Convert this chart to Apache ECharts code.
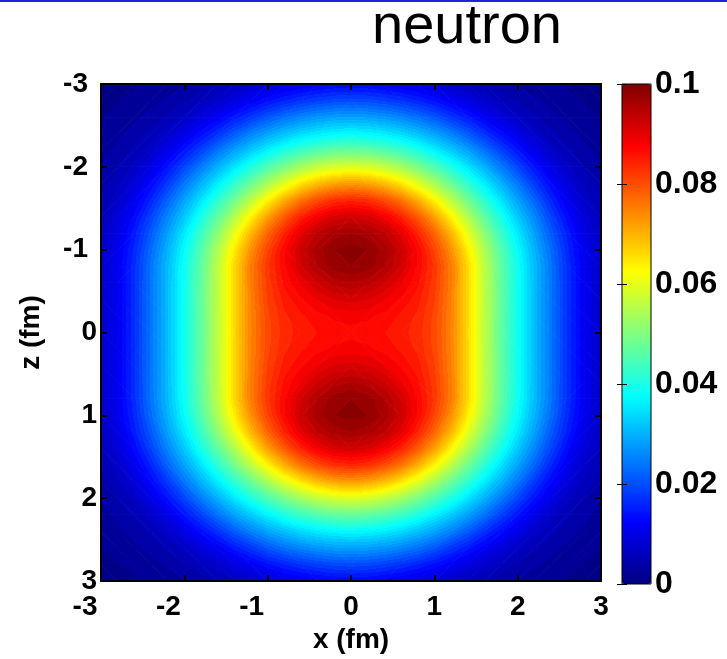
<!DOCTYPE html>
<html>
<head>
<meta charset="utf-8">
<title>neutron</title>
<script src="https://cdn.jsdelivr.net/npm/echarts@6/dist/echarts.min.js"></script>
<style>
  html, body { margin: 0; padding: 0; background: #fff; }
  #chart { width: 727px; height: 659px; }
</style>
</head>
<body>
<div id="chart"></div>
<script>
// Sample positions (fm)
const xValues = [-3, -2.8, -2.6, -2.4, -2.2, -2, -1.8, -1.6, -1.4, -1.2, -1, -0.8, -0.6, -0.4, -0.2, 0,
                 0.2, 0.4, 0.6, 0.8, 1, 1.2, 1.4, 1.6, 1.8, 2, 2.2, 2.4, 2.6, 2.8, 3];
const zValues = [-3, -2.8, -2.6, -2.4, -2.2, -2, -1.8, -1.6, -1.4, -1.2, -1, -0.8, -0.6, -0.4, -0.2, 0,
                 0.2, 0.4, 0.6, 0.8, 1, 1.2, 1.4, 1.6, 1.8, 2, 2.2, 2.4, 2.6, 2.8, 3];

// Neutron density, one row per z value (top row z = -3), columns follow xValues
const density = [
  [0.0009,0.0012,0.0014,0.0018,0.0023,0.0030,0.0038,0.0047,0.0060,0.0071,0.0085,0.0097,0.0107,0.0115,0.0121,0.0123,0.0121,0.0115,0.0107,0.0097,0.0085,0.0071,0.0060,0.0047,0.0038,0.0030,0.0023,0.0018,0.0014,0.0012,0.0009],
  [0.0012,0.0015,0.0019,0.0026,0.0034,0.0045,0.0059,0.0075,0.0095,0.0115,0.0137,0.0156,0.0172,0.0185,0.0194,0.0197,0.0194,0.0185,0.0172,0.0156,0.0137,0.0115,0.0095,0.0075,0.0059,0.0045,0.0034,0.0026,0.0019,0.0015,0.0012],
  [0.0015,0.0020,0.0027,0.0037,0.0050,0.0068,0.0091,0.0116,0.0147,0.0176,0.0208,0.0234,0.0255,0.0270,0.0279,0.0282,0.0279,0.0270,0.0255,0.0234,0.0208,0.0176,0.0147,0.0116,0.0091,0.0068,0.0050,0.0037,0.0027,0.0020,0.0015],
  [0.0019,0.0027,0.0038,0.0053,0.0072,0.0101,0.0134,0.0171,0.0213,0.0252,0.0285,0.0314,0.0340,0.0358,0.0370,0.0375,0.0370,0.0358,0.0340,0.0314,0.0285,0.0252,0.0213,0.0171,0.0134,0.0101,0.0072,0.0053,0.0038,0.0027,0.0019],
  [0.0025,0.0036,0.0051,0.0072,0.0103,0.0143,0.0187,0.0237,0.0282,0.0325,0.0366,0.0403,0.0433,0.0455,0.0470,0.0474,0.0470,0.0455,0.0433,0.0403,0.0366,0.0325,0.0282,0.0237,0.0187,0.0143,0.0103,0.0072,0.0051,0.0036,0.0025],
  [0.0032,0.0046,0.0068,0.0100,0.0141,0.0191,0.0246,0.0298,0.0352,0.0404,0.0451,0.0495,0.0534,0.0565,0.0585,0.0592,0.0585,0.0565,0.0534,0.0495,0.0451,0.0404,0.0352,0.0298,0.0246,0.0191,0.0141,0.0100,0.0068,0.0046,0.0032],
  [0.0040,0.0060,0.0089,0.0129,0.0180,0.0241,0.0299,0.0360,0.0421,0.0479,0.0540,0.0597,0.0650,0.0691,0.0716,0.0725,0.0716,0.0691,0.0650,0.0597,0.0540,0.0479,0.0421,0.0360,0.0299,0.0241,0.0180,0.0129,0.0089,0.0060,0.0040],
  [0.0048,0.0072,0.0109,0.0159,0.0222,0.0284,0.0350,0.0418,0.0486,0.0559,0.0634,0.0704,0.0762,0.0803,0.0831,0.0839,0.0831,0.0803,0.0762,0.0704,0.0634,0.0559,0.0486,0.0418,0.0350,0.0284,0.0222,0.0159,0.0109,0.0072,0.0048],
  [0.0057,0.0087,0.0131,0.0189,0.0256,0.0322,0.0396,0.0468,0.0548,0.0635,0.0719,0.0789,0.0844,0.0884,0.0910,0.0919,0.0910,0.0884,0.0844,0.0789,0.0719,0.0635,0.0548,0.0468,0.0396,0.0322,0.0256,0.0189,0.0131,0.0087,0.0057],
  [0.0064,0.0099,0.0149,0.0213,0.0282,0.0355,0.0431,0.0513,0.0603,0.0697,0.0778,0.0844,0.0900,0.0940,0.0960,0.0968,0.0960,0.0940,0.0900,0.0844,0.0778,0.0697,0.0603,0.0513,0.0431,0.0355,0.0282,0.0213,0.0149,0.0099,0.0064],
  [0.0069,0.0107,0.0161,0.0230,0.0300,0.0377,0.0456,0.0544,0.0642,0.0736,0.0811,0.0872,0.0925,0.0962,0.0984,0.0991,0.0984,0.0962,0.0925,0.0872,0.0811,0.0736,0.0642,0.0544,0.0456,0.0377,0.0300,0.0230,0.0161,0.0107,0.0069],
  [0.0072,0.0111,0.0167,0.0239,0.0309,0.0388,0.0468,0.0560,0.0663,0.0755,0.0824,0.0872,0.0920,0.0955,0.0977,0.0984,0.0977,0.0955,0.0920,0.0872,0.0824,0.0755,0.0663,0.0560,0.0468,0.0388,0.0309,0.0239,0.0167,0.0111,0.0072],
  [0.0072,0.0112,0.0168,0.0240,0.0310,0.0390,0.0470,0.0561,0.0664,0.0754,0.0820,0.0863,0.0893,0.0922,0.0944,0.0952,0.0944,0.0922,0.0893,0.0863,0.0820,0.0754,0.0664,0.0561,0.0470,0.0390,0.0310,0.0240,0.0168,0.0112,0.0072],
  [0.0072,0.0112,0.0168,0.0240,0.0310,0.0390,0.0470,0.0561,0.0663,0.0751,0.0814,0.0850,0.0872,0.0892,0.0907,0.0912,0.0907,0.0892,0.0872,0.0850,0.0814,0.0751,0.0663,0.0561,0.0470,0.0390,0.0310,0.0240,0.0168,0.0112,0.0072],
  [0.0072,0.0112,0.0168,0.0240,0.0310,0.0390,0.0470,0.0561,0.0662,0.0749,0.0808,0.0840,0.0856,0.0869,0.0878,0.0881,0.0878,0.0869,0.0856,0.0840,0.0808,0.0749,0.0662,0.0561,0.0470,0.0390,0.0310,0.0240,0.0168,0.0112,0.0072],
  [0.0072,0.0112,0.0168,0.0240,0.0310,0.0390,0.0470,0.0560,0.0661,0.0748,0.0806,0.0836,0.0850,0.0860,0.0867,0.0870,0.0867,0.0860,0.0850,0.0836,0.0806,0.0748,0.0661,0.0560,0.0470,0.0390,0.0310,0.0240,0.0168,0.0112,0.0072],
  [0.0072,0.0112,0.0168,0.0240,0.0310,0.0390,0.0470,0.0561,0.0662,0.0749,0.0808,0.0840,0.0856,0.0869,0.0878,0.0881,0.0878,0.0869,0.0856,0.0840,0.0808,0.0749,0.0662,0.0561,0.0470,0.0390,0.0310,0.0240,0.0168,0.0112,0.0072],
  [0.0072,0.0112,0.0168,0.0240,0.0310,0.0390,0.0470,0.0561,0.0663,0.0751,0.0814,0.0850,0.0872,0.0892,0.0907,0.0912,0.0907,0.0892,0.0872,0.0850,0.0814,0.0751,0.0663,0.0561,0.0470,0.0390,0.0310,0.0240,0.0168,0.0112,0.0072],
  [0.0072,0.0112,0.0168,0.0240,0.0310,0.0390,0.0470,0.0561,0.0664,0.0754,0.0820,0.0863,0.0893,0.0922,0.0944,0.0952,0.0944,0.0922,0.0893,0.0863,0.0820,0.0754,0.0664,0.0561,0.0470,0.0390,0.0310,0.0240,0.0168,0.0112,0.0072],
  [0.0072,0.0111,0.0167,0.0239,0.0309,0.0388,0.0468,0.0560,0.0663,0.0755,0.0824,0.0872,0.0920,0.0955,0.0977,0.0984,0.0977,0.0955,0.0920,0.0872,0.0824,0.0755,0.0663,0.0560,0.0468,0.0388,0.0309,0.0239,0.0167,0.0111,0.0072],
  [0.0069,0.0107,0.0161,0.0230,0.0300,0.0377,0.0456,0.0544,0.0642,0.0736,0.0811,0.0872,0.0925,0.0962,0.0984,0.0991,0.0984,0.0962,0.0925,0.0872,0.0811,0.0736,0.0642,0.0544,0.0456,0.0377,0.0300,0.0230,0.0161,0.0107,0.0069],
  [0.0064,0.0099,0.0149,0.0213,0.0282,0.0355,0.0431,0.0513,0.0603,0.0697,0.0778,0.0844,0.0900,0.0940,0.0960,0.0968,0.0960,0.0940,0.0900,0.0844,0.0778,0.0697,0.0603,0.0513,0.0431,0.0355,0.0282,0.0213,0.0149,0.0099,0.0064],
  [0.0057,0.0087,0.0131,0.0189,0.0256,0.0322,0.0396,0.0468,0.0548,0.0635,0.0719,0.0789,0.0844,0.0884,0.0910,0.0919,0.0910,0.0884,0.0844,0.0789,0.0719,0.0635,0.0548,0.0468,0.0396,0.0322,0.0256,0.0189,0.0131,0.0087,0.0057],
  [0.0048,0.0072,0.0109,0.0159,0.0222,0.0284,0.0350,0.0418,0.0486,0.0559,0.0634,0.0704,0.0762,0.0803,0.0831,0.0839,0.0831,0.0803,0.0762,0.0704,0.0634,0.0559,0.0486,0.0418,0.0350,0.0284,0.0222,0.0159,0.0109,0.0072,0.0048],
  [0.0040,0.0060,0.0089,0.0129,0.0180,0.0241,0.0299,0.0360,0.0421,0.0479,0.0540,0.0597,0.0650,0.0691,0.0716,0.0725,0.0716,0.0691,0.0650,0.0597,0.0540,0.0479,0.0421,0.0360,0.0299,0.0241,0.0180,0.0129,0.0089,0.0060,0.0040],
  [0.0032,0.0046,0.0068,0.0100,0.0141,0.0191,0.0246,0.0298,0.0352,0.0404,0.0451,0.0495,0.0534,0.0565,0.0585,0.0592,0.0585,0.0565,0.0534,0.0495,0.0451,0.0404,0.0352,0.0298,0.0246,0.0191,0.0141,0.0100,0.0068,0.0046,0.0032],
  [0.0025,0.0036,0.0051,0.0072,0.0103,0.0143,0.0187,0.0237,0.0282,0.0325,0.0366,0.0403,0.0433,0.0455,0.0470,0.0474,0.0470,0.0455,0.0433,0.0403,0.0366,0.0325,0.0282,0.0237,0.0187,0.0143,0.0103,0.0072,0.0051,0.0036,0.0025],
  [0.0019,0.0027,0.0038,0.0053,0.0072,0.0101,0.0134,0.0171,0.0213,0.0252,0.0285,0.0314,0.0340,0.0358,0.0370,0.0375,0.0370,0.0358,0.0340,0.0314,0.0285,0.0252,0.0213,0.0171,0.0134,0.0101,0.0072,0.0053,0.0038,0.0027,0.0019],
  [0.0015,0.0020,0.0027,0.0037,0.0050,0.0068,0.0091,0.0116,0.0147,0.0176,0.0208,0.0234,0.0255,0.0270,0.0279,0.0282,0.0279,0.0270,0.0255,0.0234,0.0208,0.0176,0.0147,0.0116,0.0091,0.0068,0.0050,0.0037,0.0027,0.0020,0.0015],
  [0.0012,0.0015,0.0019,0.0026,0.0034,0.0045,0.0059,0.0075,0.0095,0.0115,0.0137,0.0156,0.0172,0.0185,0.0194,0.0197,0.0194,0.0185,0.0172,0.0156,0.0137,0.0115,0.0095,0.0075,0.0059,0.0045,0.0034,0.0026,0.0019,0.0015,0.0012],
  [0.0009,0.0012,0.0014,0.0018,0.0023,0.0030,0.0038,0.0047,0.0060,0.0071,0.0085,0.0097,0.0107,0.0115,0.0121,0.0123,0.0121,0.0115,0.0107,0.0097,0.0085,0.0071,0.0060,0.0047,0.0038,0.0030,0.0023,0.0018,0.0014,0.0012,0.0009]
];

// Colour scale range, number of filled contour levels, colorbar tick step
const densityMin = 0;
const densityMax = 0.1;
const levelCount = 64;
const colorbarStep = 0.02;

// Jet colour map stops (evenly spaced over the range)
const jetColors = ['#000080', '#0000ff', '#0080ff', '#00ffff', '#80ff80',
                   '#ffff00', '#ff8000', '#ff0000', '#800000'];

const FONT = '"Liberation Sans", Arial, Helvetica, sans-serif';

// ---- colour helpers -------------------------------------------------------
const jetRgb = jetColors.map(h => [parseInt(h.slice(1, 3), 16), parseInt(h.slice(3, 5), 16), parseInt(h.slice(5, 7), 16)]);
function jetAt(t) {
  t = Math.max(0, Math.min(1, t));
  const s = t * (jetRgb.length - 1);
  const k = Math.min(jetRgb.length - 2, Math.floor(s));
  const f = s - k;
  const a = jetRgb[k], b = jetRgb[k + 1];
  return 'rgb(' + [0, 1, 2].map(c => Math.round(a[c] + (b[c] - a[c]) * f)).join(',') + ')';
}
const levelWidth = (densityMax - densityMin) / levelCount;
const levelColors = [];
for (let k = 0; k < levelCount; k++) levelColors.push(jetAt((k + 0.5) / levelCount));
function levelOf(v) {
  return Math.max(0, Math.min(levelCount - 1, Math.floor((v - densityMin) / levelWidth)));
}

// Filled-contour style fill for one triangle of the sample grid:
// a linear gradient along the direction in which the value changes,
// with a hard colour step at every contour level it crosses.
function triangleFill(p, v) {
  const e2x = p[1][0] - p[0][0], e2y = p[1][1] - p[0][1];
  const e3x = p[2][0] - p[0][0], e3y = p[2][1] - p[0][1];
  const dv2 = v[1] - v[0], dv3 = v[2] - v[0];
  const det = e2x * e3y - e2y * e3x;
  const lo = Math.min(v[0], v[1], v[2]);
  const hi = Math.max(v[0], v[1], v[2]);
  const kLo = levelOf(lo), kHi = levelOf(hi);
  if (kLo === kHi || Math.abs(det) < 1e-9) return levelColors[levelOf((v[0] + v[1] + v[2]) / 3)];
  const gx = (dv2 * e3y - e2y * dv3) / det;
  const gy = (e2x * dv3 - dv2 * e3x) / det;
  const g2 = gx * gx + gy * gy;
  const sx = p[0][0] + (lo - v[0]) * gx / g2, sy = p[0][1] + (lo - v[0]) * gy / g2;
  const ex = p[0][0] + (hi - v[0]) * gx / g2, ey = p[0][1] + (hi - v[0]) * gy / g2;
  const stops = [{ offset: 0, color: levelColors[kLo] }];
  for (let k = kLo + 1; k <= kHi; k++) {
    const off = (densityMin + k * levelWidth - lo) / (hi - lo);
    stops.push({ offset: off, color: levelColors[k - 1] });
    stops.push({ offset: off, color: levelColors[k] });
  }
  stops.push({ offset: 1, color: levelColors[kHi] });
  return { type: 'linear', x: sx, y: sy, x2: ex, y2: ey, global: true, colorStops: stops };
}

// Flatten the grid into [x, z, value] triples
const nx = xValues.length, nz = zValues.length;
const cells = [];
zValues.forEach((z, j) => {
  xValues.forEach((x, i) => {
    cells.push([x, z, density[j][i]]);
  });
});

// Each sample draws the patch between itself and its right / lower neighbours
function renderPatch(params, api) {
  const i = params.dataIndex % nx;
  const j = Math.floor(params.dataIndex / nx);
  if (i >= nx - 1 || j >= nz - 1) return;
  const corner = [[i, j], [i + 1, j], [i + 1, j + 1], [i, j + 1]];
  const pts = corner.map(c => api.coord([xValues[c[0]], zValues[c[1]]]));
  const vals = corner.map(c => density[c[1]][c[0]]);
  // split along the diagonal whose ends differ least (follows the contours)
  const tris = Math.abs(vals[0] - vals[2]) <= Math.abs(vals[1] - vals[3])
    ? [[0, 1, 2], [0, 2, 3]]
    : [[0, 1, 3], [1, 2, 3]];
  return {
    type: 'group',
    children: tris.map(t => {
      const p = t.map(k => pts[k]);
      const v = t.map(k => vals[k]);
      const fill = triangleFill(p, v);
      return {
        type: 'polygon',
        shape: { points: p },
        style: { fill: fill, stroke: fill, lineWidth: 1 }
      };
    })
  };
}

const labelText = { fontFamily: FONT, fontWeight: 'bold', fontSize: 28, color: '#000' };
const frameLine = { show: true, onZero: false, lineStyle: { color: '#000', width: 2 } };
const frameTick = { show: true, inside: true, length: 6, lineStyle: { color: '#000', width: 2 } };

const chart = echarts.init(document.getElementById('chart'), null, { renderer: 'canvas' });

chart.setOption({
  animation: false,
  backgroundColor: '#fff',
  title: {
    text: 'neutron',
    left: 372,
    top: 0,
    padding: 0,
    textStyle: { fontFamily: FONT, fontWeight: 'normal', fontSize: 56, color: '#000' }
  },
  graphic: [
    { type: 'rect', left: 0, top: 0, shape: { width: 727, height: 2 }, style: { fill: '#2222d8' }, silent: true }
  ],
  grid: [
    { left: 101, top: 84, width: 500, height: 498, show: false },
    { left: 622, top: 84, width: 29, height: 500, show: true, z: 10,
      backgroundColor: 'transparent', borderColor: '#000', borderWidth: 1 }
  ],
  xAxis: [
    {
      gridIndex: 0, type: 'value', min: -3, max: 3, interval: 1, position: 'bottom', z: 10,
      axisLine: frameLine, axisTick: frameTick, splitLine: { show: false },
      axisLabel: {
        margin: 12,
        formatter: v => (v < 0 ? '{neg|' + v + '}' : '{pos|' + v + '}'),
        rich: {
          neg: Object.assign({ padding: [0, 32, 0, 0] }, labelText),
          pos: Object.assign({}, labelText)
        }
      },
      name: 'x (fm)', nameLocation: 'middle', nameGap: 36,
      nameTextStyle: labelText
    },
    {
      gridIndex: 0, type: 'value', min: -3, max: 3, interval: 1, position: 'top', z: 10,
      axisLine: frameLine, axisTick: frameTick, axisLabel: { show: false }, splitLine: { show: false }
    },
    {
      gridIndex: 1, type: 'value', min: 0, max: 1, show: false
    }
  ],
  yAxis: [
    {
      gridIndex: 0, type: 'value', min: -3, max: 3, interval: 1, inverse: true, position: 'left', z: 10,
      axisLine: frameLine, axisTick: frameTick, splitLine: { show: false },
      axisLabel: {
        margin: 4,
        formatter: v => (v < 0 ? '{neg|' + v + '}' : '{pos|' + v + '}'),
        rich: {
          neg: Object.assign({ padding: [0, 9, 0, 0] }, labelText),
          pos: Object.assign({}, labelText)
        }
      },
      name: 'z (fm)', nameLocation: 'middle', nameRotate: 90, nameGap: 56,
      nameTextStyle: labelText
    },
    {
      gridIndex: 0, type: 'value', min: -3, max: 3, interval: 1, inverse: true, position: 'right', z: 10,
      axisLine: frameLine, axisTick: frameTick, axisLabel: { show: false }, splitLine: { show: false }
    },
    {
      gridIndex: 1, type: 'value', min: densityMin, max: densityMax, interval: colorbarStep,
      position: 'right', z: 11,
      axisLine: { show: false },
      axisTick: { show: true, inside: true, length: 5, lineStyle: { color: '#000', width: 1 } },
      axisLabel: { margin: 4, fontFamily: FONT, fontWeight: 'bold', fontSize: 32, color: '#000' },
      splitLine: { show: false }
    },
    {
      gridIndex: 1, type: 'value', min: densityMin, max: densityMax, interval: colorbarStep,
      position: 'left', z: 11,
      axisLine: { show: false },
      axisTick: { show: true, inside: true, length: 5, lineStyle: { color: '#000', width: 1 } },
      axisLabel: { show: false },
      splitLine: { show: false }
    }
  ],
  visualMap: {
    type: 'continuous',
    seriesIndex: 0,
    dimension: 2,
    min: densityMin,
    max: densityMax,
    calculable: false,
    realtime: false,
    orient: 'vertical',
    left: 622,
    top: 84,
    padding: 0,
    itemWidth: 29,
    itemHeight: 500,
    text: null,
    z: 4,
    inRange: { color: jetColors }
  },
  series: [
    {
      type: 'custom',
      xAxisIndex: 0,
      yAxisIndex: 0,
      renderItem: renderPatch,
      encode: { x: 0, y: 1 },
      data: cells,
      silent: true
    }
  ]
});
</script>
</body>
</html>
